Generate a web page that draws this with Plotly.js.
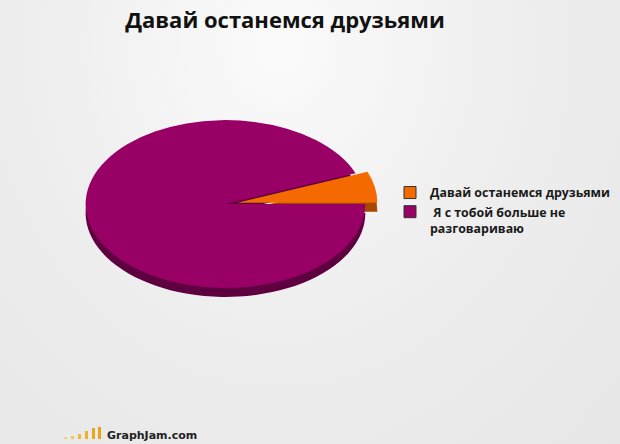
<!DOCTYPE html>
<html>
<head>
<meta charset="utf-8">
<script src="https://cdn.plot.ly/plotly-3.0.1.min.js"></script>
<style>
  html, body { margin:0; padding:0; }
  body { background: radial-gradient(ellipse at 45% 10%, #fbfbfb 0%, #efefef 45%, #e6e6e6 100%); }
  #chart { width:620px; height:444px; }
</style>
</head>
<body>
<div id="chart"></div>
<script>
// data
const labels = ['Давай останемся друзьями', ' Я с тобой больше не<br>разговариваю'];
const values = [6, 94];
const topColors = ['#f46a00', '#990066'];
const sideColors = ['#a84800', '#5e0040'];
const pulls = [0.087, 0];

// ellipse squash for the fake 3d look
const squash = 0.6;
const depth = 9;

// first slice should start at 3 o'clock and run upwards
const total = values.reduce((a, b) => a + b, 0);
const start_rot = 90 - values[0] / total * 360;

const pie_dom = {x: [0.1185, 0.6089], y: [0.198, 0.883]};

///////////////////////////////////////////////////////////////////////////////
function pie_trace(colors, show) 
{
    return {
        type: 'pie',
        labels: labels,
        values: values,
        sort: false,
        direction: 'counterclockwise',
        rotation: start_rot,
        pull: pulls,
        textinfo: 'none',
        hoverinfo: 'skip',
        showlegend: show,
        marker: {colors: colors, line: {width: 0}},
        domain: pie_dom,
    };
}

let plot_traces = [pie_trace(sideColors, false), pie_trace(topColors, true)];

let plot_layout = 
{
    width: 620, height: 444,
    margin: {l:0, r:0, t:0, b:0},
    paper_bgcolor: 'rgba(0,0,0,0)',
    plot_bgcolor: 'rgba(0,0,0,0)',
    font: {family: 'Open Sans, sans-serif', color: '#1a1a1a'},
    title: {
        text: '<b>Давай останемся друзьями</b>',
        x: 285/620, xanchor: 'center',
        y: 1 - 20/444, yanchor: 'middle',
        font: {size: 22, color: '#111111'},
    },
    legend: {
        x: 390/620, xanchor: 'left',
        y: 1 - 178/444, yanchor: 'top',
        valign: 'top',
        bgcolor: 'rgba(0,0,0,0)',
        font: {size: 12.4, color: '#1a1a1a', weight: 'bold'},
        traceorder: 'normal',
    },
    annotations: [{
        text: '<b>GraphJam.com</b>',
        xref: 'paper', yref: 'paper',
        x: 105/620, y: 1 - 435/444,
        xanchor: 'left', yanchor: 'middle',
        showarrow: false,
        font: {size: 11, color: '#222222', family: 'DejaVu Sans, sans-serif'},
    }],
    shapes: [],
};

// little logo bars
const logo_x = [64, 71, 78, 85, 92, 98];
const logo_h = [2, 3, 5, 8, 11, 12];
const logo_c = ['#f5d070', '#f2c550', '#efba38', '#ecb02a', '#e8a81e', '#e6a418'];
logo_x.forEach((x, i) => {
    plot_layout.shapes.push({
        type: 'rect', xref: 'paper', yref: 'paper',
        x0: x/620, x1: (x + 3)/620,
        y0: 1 - 439/444, y1: 1 - (439 - logo_h[i])/444,
        fillcolor: logo_c[i], line: {width: 0},
    });
});

let plot_container = document.getElementById('chart');
Plotly.newPlot(plot_container, plot_traces, plot_layout, {staticPlot: true}).then(() => {
    // squash the pies into ellipses about their centre
    const fl = plot_container._fullLayout;
    const cx = fl._size.l + fl._size.w * (pie_dom.x[0] + pie_dom.x[1]) / 2;
    const cy = fl._size.t + fl._size.h * (1 - (pie_dom.y[0] + pie_dom.y[1]) / 2);
    const groups = plot_container.querySelectorAll('.pielayer g.trace');
    groups.forEach((g, i) => {
        const dy = (i === 0) ? depth : 0;
        g.setAttribute('transform',
            `translate(0,${dy}) translate(${cx},${cy}) scale(1,${squash}) translate(${-cx},${-cy})`);
    });
    plot_container.querySelectorAll('.legendpie').forEach(p => {
        p.style.stroke = '#333333';
        p.style.strokeWidth = '1px';
    });
});
</script>
</body>
</html>
